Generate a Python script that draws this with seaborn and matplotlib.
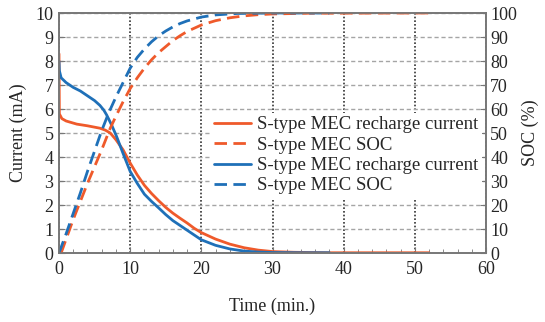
import matplotlib
matplotlib.use('Agg')
import matplotlib.pyplot as plt
import seaborn as sns

# values
t_cur_orange = [0, 0.05, 0.4, 1, 2.5, 4, 5.75, 6.5, 7.2, 8, 9, 10, 11, 12, 13, 14, 15, 16, 17, 18, 19, 20,
                22, 24, 26, 28, 30, 33, 38, 45, 52]
cur_orange = [8.3, 5.8, 5.6, 5.5, 5.37, 5.3, 5.2, 5.12, 5.0, 4.72, 4.3, 3.75, 3.25, 2.82, 2.48, 2.18, 1.9, 1.66,
              1.45, 1.25, 1.03, 0.85, 0.58, 0.37, 0.22, 0.12, 0.06, 0.03, 0.01, 0.01, 0.01]

t_soc_orange = [0.3, 2, 4, 6, 7.2, 8, 9, 10, 11, 12, 13, 14, 15, 16, 17, 18, 20, 22, 24, 26, 28, 30, 35, 52]
soc_orange = [0, 14, 29, 43, 52, 57, 63, 68.5, 73, 77, 80.5, 83.5, 86, 88.5, 90.5, 92.3, 95, 96.8, 98, 98.8,
              99.3, 99.6, 99.9, 100]

t_cur_blue = [0, 0.05, 0.3, 1, 2, 3, 4, 5, 5.75, 6.3, 6.7, 7.4, 8.1, 9, 10, 11, 12, 13, 14, 15, 16, 17, 18,
              19, 20, 22, 24, 26, 28, 30, 34, 38]
cur_blue = [8.0, 7.6, 7.3, 7.1, 6.9, 6.75, 6.55, 6.35, 6.15, 5.95, 5.75, 5.33, 4.85, 4.15, 3.4, 2.9, 2.45,
            2.15, 1.88, 1.6, 1.35, 1.15, 0.95, 0.75, 0.55, 0.32, 0.17, 0.08, 0.04, 0.02, 0.01, 0.01]

t_soc_blue = [0, 1, 2, 3, 4, 5, 6, 7, 8, 9, 10, 11, 12, 13, 14, 15, 16, 17, 18, 20, 22, 25, 30, 38]
soc_blue = [0, 8, 16.5, 25, 34, 42.5, 51, 58.5, 65, 71, 77, 81.5, 85, 88, 90.5, 92.5, 94.2, 95.6, 96.7, 98.3,
            99.2, 99.8, 100, 100]

labels = ['S-type MEC recharge current', 'S-type MEC SOC',
          'S-type MEC recharge current', 'S-type MEC SOC']

orange = '#EF5A2B'
blue = '#1F70B8'

sns.set_style("ticks")
plt.rcParams['font.family'] = ['Liberation Serif', 'DejaVu Serif']
plt.rcParams['font.size'] = 13

fig, ax = plt.subplots(figsize=(5.45, 3.22), dpi=100)
fig.subplots_adjust(left=59 / 545, right=486 / 545, top=1 - 13 / 322, bottom=1 - 253 / 322)
ax2 = ax.twinx()

dash = (0, (4.5, 2.3))
handles = []
sns.lineplot(x=t_cur_orange, y=cur_orange, ax=ax, color=orange, lw=2, estimator=None, sort=False)
handles.append(ax.lines[-1])
sns.lineplot(x=t_soc_orange, y=soc_orange, ax=ax2, color=orange, lw=2, linestyle=dash, estimator=None, sort=False)
handles.append(ax2.lines[-1])
sns.lineplot(x=t_cur_blue, y=cur_blue, ax=ax, color=blue, lw=2, estimator=None, sort=False)
handles.append(ax.lines[-1])
sns.lineplot(x=t_soc_blue, y=soc_blue, ax=ax2, color=blue, lw=2, linestyle=dash, estimator=None, sort=False)
handles.append(ax2.lines[-1])

ax.set_xlim(0, 60)
ax.set_ylim(0, 10)
ax2.set_ylim(0, 100)
ax.set_xticks(range(0, 61, 10))
ax.set_xticks(range(0, 61, 2), minor=True)
ax.set_yticks(range(0, 11))
ax2.set_yticks(range(0, 101, 10))

# grid: gray dashed horizontals, dark dotted verticals
ax.grid(axis='y', color='#a5a5a5', linestyle=(0, (3, 2)), lw=1)
ax.grid(axis='x', color='#333333', linestyle=(0, (1, 1.2)), lw=1.2)
ax.set_axisbelow(True)

for a in (ax, ax2):
    for s in a.spines.values():
        s.set_color('#777777')
        s.set_linewidth(1.2)
ax.tick_params(axis='both', which='both', direction='in', color='#777777', labelsize=13)
ax.tick_params(axis='x', which='major', length=4, pad=6)
ax.tick_params(axis='x', which='minor', length=3)
ax.tick_params(axis='y', length=4, pad=4)
ax2.tick_params(axis='y', direction='in', length=4, color='#777777', labelsize=13, pad=3)

ax.set_xlabel('Time (min.)', fontsize=13, labelpad=14)
ax.set_ylabel('Current (mA)', fontsize=13, labelpad=6)
ax2.set_ylabel('SOC (%)', fontsize=13, labelpad=3)

leg = ax2.legend(handles, labels, loc='upper left', bbox_to_anchor=(0.354, 0.585), frameon=True,
                 facecolor='white', edgecolor='none', framealpha=1, fontsize=13.5, handlelength=2.0,
                 handletextpad=0.3, labelspacing=0.17, borderpad=0.2, borderaxespad=0)
leg.get_frame().set_boxstyle('square', pad=0)

plt.savefig('out.png', dpi=100)
